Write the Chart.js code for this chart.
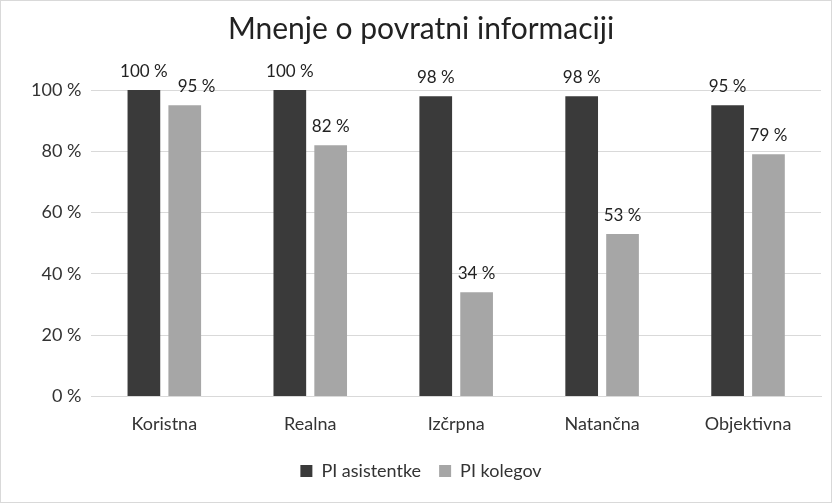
<!DOCTYPE html>
<html lang="sl">
<head>
    <meta charset="UTF-8">
    <title>Mnenje o povratni informaciji</title>
    <script src="https://cdn.jsdelivr.net/npm/chart.js"></script>
    <style>
        html, body {
            margin: 0;
            padding: 0;
            background: #fff;
        }

        .wrap {
            position: relative;
            width: 830px;
            height: 501px;
            border: 1px solid #d9d9d9;
        }
    </style>
</head>
<body>
    <div class="wrap">
        <canvas id="chart"></canvas>
    </div>

    <script>
        // podatki
        const categories = ['Koristna', 'Realna', 'Izčrpna', 'Natančna', 'Objektivna'];
        const asistentka = [100, 100, 98, 98, 95];
        const kolegi = [95, 82, 34, 53, 79];
        const seriesNames = ['PI asistentke', 'PI kolegov'];

        const font = 'Lato, "Open Sans", sans-serif';

        // oznake vrednosti nad stolpci (druga se umakne v desno, ce se prekriva)
        const valueLabels = {
            id: 'valueLabels',
            afterDatasetsDraw(chart) {
                const ctx = chart.ctx;
                ctx.save();
                ctx.font = '17px ' + font;
                ctx.fillStyle = '#222';
                ctx.textBaseline = 'bottom';
                const prev = [];
                chart.data.datasets.forEach((ds, i) => {
                    chart.getDatasetMeta(i).data.forEach((bar, j) => {
                        const txt = ds.data[j] + ' %';
                        const w = ctx.measureText(txt).width;
                        let left = bar.x - w / 2;
                        const y = bar.y - 10;
                        const p = prev[j];
                        if (p && Math.abs(p.y - y) < 18 && left < p.right + 8) {
                            left = p.right + 10;
                        }
                        ctx.fillText(txt, left, y);
                        prev[j] = { right: left + w, y: y };
                    });
                });
                ctx.restore();
            }
        };

        new Chart(document.getElementById('chart'), {
            type: 'bar',
            data: {
                labels: categories,
                datasets: [{
                    label: seriesNames[0],
                    data: asistentka,
                    backgroundColor: '#3a3a3a',
                    barPercentage: 0.8,
                    categoryPercentage: 0.56
                }, {
                    label: seriesNames[1],
                    data: kolegi,
                    backgroundColor: '#a6a6a6',
                    barPercentage: 0.8,
                    categoryPercentage: 0.56
                }]
            },
            options: {
                responsive: true,
                maintainAspectRatio: false,
                animation: false,
                layout: {
                    padding: { left: 20, right: 10, top: 0, bottom: 12 }
                },
                plugins: {
                    title: {
                        display: true,
                        text: 'Mnenje o povratni informaciji',
                        color: '#222',
                        font: { family: font, size: 30, weight: 'normal' },
                        padding: { top: 10, bottom: 43 }
                    },
                    legend: {
                        position: 'bottom',
                        labels: {
                            color: '#333',
                            font: { family: font, size: 18 },
                            boxWidth: 12,
                            boxHeight: 12,
                            padding: 18
                        }
                    },
                    tooltip: { enabled: false }
                },
                scales: {
                    x: {
                        grid: { display: false },
                        border: { color: '#d9d9d9' },
                        ticks: {
                            color: '#333',
                            font: { family: font, size: 18 },
                            padding: 9
                        }
                    },
                    y: {
                        min: 0,
                        max: 100,
                        grid: { color: '#d9d9d9', drawTicks: false },
                        border: { display: false },
                        ticks: {
                            stepSize: 20,
                            color: '#333',
                            font: { family: font, size: 18 },
                            padding: 10,
                            callback: v => v + ' %'
                        }
                    }
                }
            },
            plugins: [valueLabels]
        });
    </script>
</body>
</html>
